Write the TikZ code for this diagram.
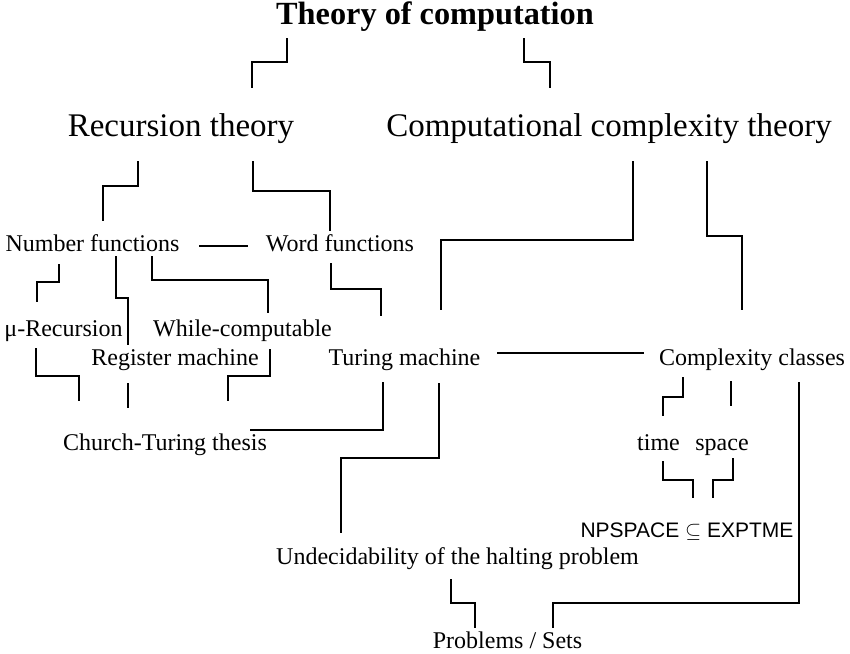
\documentclass[tikz,border=0pt]{standalone}
\usepackage{fontspec}
\setmainfont{Liberation Serif}
\newfontfamily\arialf{Liberation Sans}
\usetikzlibrary{calc}
\begin{document}
\begin{tikzpicture}[x=1pt,y=-1pt,
  lbl/.style={anchor=base,inner sep=0pt,font=\fontsize{24}{28}\selectfont},
  big/.style={anchor=base,inner sep=0pt,font=\fontsize{33}{38}\selectfont},
  title/.style={anchor=base,inner sep=0pt,font=\fontsize{32.3}{36}\selectfont\bfseries},
  sans/.style={anchor=base,inner sep=0pt,font=\fontsize{21}{25}\selectfont\arialf},
  conn/.style={draw=black,line width=1.6pt,line cap=butt,line join=miter}]
\useasboundingbox (0,0) rectangle (850,653);
\node[title] (T) at (435,24) {Theory of computation};
\node[big] (R) at (181,136) {Recursion theory};
\node[big] (C) at (609,136) {Computational complexity theory};
\node[lbl] (N) at (92.5,251) {Number functions};
\node[lbl] (W) at (340,251) {Word functions};
\node[lbl] (Mu) at (63.5,336) {μ-Recursion};
\node[lbl] (Wh) at (242.5,336) {While-computable};
\node[lbl] (Reg) at (175,365) {Register machine};
\node[lbl] (Tu) at (404.5,365) {Turing machine};
\node[lbl] (CC) at (752,365) {Complexity classes};
\node[lbl] (Ch) at (165,450) {Church-Turing thesis};
\node[lbl] (Ti) at (658.5,450) {time};
\node[lbl] (Sp) at (722,450) {space};
\node[sans] (NP) at (687,537) {NPSPACE $\subseteq$ EXPTME};
\node[lbl] (Un) at (457.5,564) {Undecidability of the halting problem};
\node[lbl] (Pr) at (507.5,648) {Problems / Sets};
% connectors
\draw[conn] ($(T.base)+(-148,14)$) -- ++(0,24) -| ($(R.base)+(71,-48)$);
\draw[conn] ($(T.base)+(89,14)$) -- ++(0,24) -| ($(C.base)+(-59,-48)$);
\draw[conn] ($(R.base)+(-43,25)$) -- ++(0,25) -| ($(N.base)+(10.5,-30)$);
\draw[conn] ($(R.base)+(72,25)$) -- ++(0,30) -| ($(W.base)+(-10,-20)$);
\draw[conn] ($(C.base)+(24,25)$) -- ++(0,79) -| ($(Tu.base)+(36.5,-55)$);
\draw[conn] ($(C.base)+(98,25)$) -- ++(0,75) -| ($(CC.base)+(-10,-55)$);
\draw[conn] ($(N.base)+(106.5,-5)$) -- ($(W.base)+(-92,-5)$);
\draw[conn] ($(N.base)+(-33.5,13)$) -- ++(0,18) -| ($(Mu.base)+(-26.5,-34)$);
\draw[conn] ($(N.base)+(23.5,5)$) -- ++(0,42) -| ($(Reg.base)+(-47,-20)$);
\draw[conn] ($(N.base)+(59.5,5)$) -- ++(0,24) -| ($(Wh.base)+(25.5,-23)$);
\draw[conn] ($(W.base)+(-9,12)$) -- ++(0,26) -| ($(Tu.base)+(-23.5,-49)$);
\draw[conn] ($(Mu.base)+(-27.5,12)$) -- ++(0,28) -| ($(Ch.base)+(-86,-49)$);
\draw[conn] ($(Reg.base)+(-47,18)$) -- ($(Ch.base)+(-37,-42)$);
\draw[conn] ($(Wh.base)+(27.5,13)$) -- ++(0,27) -| ($(Ch.base)+(63,-49)$);
\draw[conn] ($(Tu.base)+(-21.5,17)$) |- ($(Ch.base)+(85,-20)$);
\draw[conn] ($(Tu.base)+(34.5,18)$) -- ++(0,75) -| ($(Un.base)+(-116.5,-31)$);
\draw[conn] ($(Tu.base)+(92.5,-12)$) -- ($(CC.base)+(-108,-12)$);
\draw[conn] ($(CC.base)+(-69,12)$) -- ++(0,20) -| ($(Ti.base)+(4.5,-34)$);
\draw[conn] ($(CC.base)+(-21,16)$) -- ($(Sp.base)+(9,-44)$);
\draw[conn] ($(Ti.base)+(4.5,11)$) -- ++(0,19) -| ($(NP.base)+(6,-39)$);
\draw[conn] ($(Sp.base)+(11,8)$) -- ++(0,22) -| ($(NP.base)+(26,-39)$);
\draw[conn] ($(Un.base)+(-6.5,15)$) -- ++(0,24) -| ($(Pr.base)+(-32.5,-20)$);
\draw[conn] ($(CC.base)+(47,17)$) -- ++(0,221) -| ($(Pr.base)+(45.5,-20)$);
\end{tikzpicture}
\end{document}
